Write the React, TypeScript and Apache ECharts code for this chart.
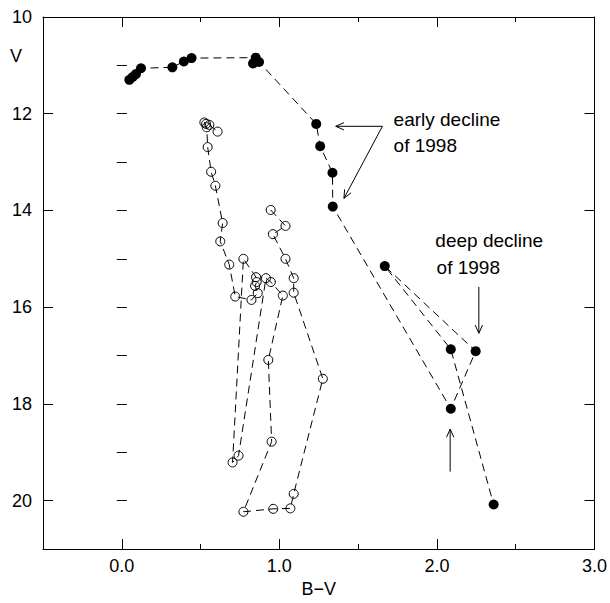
import React, { useEffect, useRef } from 'react';
import * as echarts from 'echarts';

// Filled symbols (bright phase / 1998 decline), in observation order
const filledBV = [0.048, 0.069, 0.09, 0.122, 0.321, 0.394, 0.443, 0.85, 0.833, 0.871, 1.234, 1.259, 1.337, 1.339, 2.088, 2.246, 1.669, 2.088, 2.36];
const filledV = [11.3, 11.24, 11.18, 11.06, 11.04, 10.92, 10.85, 10.84, 10.96, 10.93, 12.21, 12.67, 13.22, 13.92, 18.1, 16.91, 15.15, 16.87, 20.08];

// Open symbols, in order along the dashed track
const openBV = [0.945, 1.039, 0.959, 1.039, 1.091, 1.091, 1.276, 1.091, 1.07, 0.961, 0.772, 0.951, 0.93, 1.022, 0.946, 0.915, 0.741, 0.703, 0.772, 0.852, 0.856, 0.846, 0.863, 0.823, 0.72, 0.682, 0.625, 0.64, 0.594, 0.567, 0.545, 0.539, 0.524, 0.535, 0.556, 0.608];
const openV = [13.99, 14.32, 14.49, 15.0, 15.4, 15.7, 17.48, 19.86, 20.16, 20.17, 20.23, 18.78, 17.09, 15.76, 15.48, 15.4, 19.07, 19.21, 15.0, 15.38, 15.48, 15.56, 15.71, 15.85, 15.78, 15.12, 14.64, 14.26, 13.49, 13.2, 12.69, 12.28, 12.18, 12.21, 12.23, 12.37];

const xMajorTicks = [0, 1, 2, 3];
const yMajorTicks = [10, 12, 14, 16, 18, 20];
const xAxisTitle = 'B\u2212V';
const yAxisTitle = 'V';
const noteEarly = ['early decline', 'of 1998'];
const noteDeep = ['deep decline', 'of 1998'];

const FONT = '"Liberation Sans", Arial, Helvetica, sans-serif';
const AXIS_FS = 18;
const NOTE_FS = 19;
const X_MIN = -0.5, X_MAX = 3, Y_MIN = 10, Y_MAX = 21;

function zip(a: number[], b: number[]) {
  return a.map((v, i) => [v, b[i]]);
}

export default function App() {
  const ref = useRef<HTMLDivElement>(null);
  useEffect(() => {
    const chart = echarts.init(ref.current!, null, { renderer: 'svg' });
    const black = '#000';
    const lineCommon = { show: true, onZero: false, lineStyle: { color: black, width: 1 } };
    const xAxes: any[] = [];
    const yAxes: any[] = [];
    (['bottom', 'top'] as const).forEach((pos) => {
      xAxes.push({
        type: 'value', position: pos, min: X_MIN, max: X_MAX,
        axisLine: lineCommon,
        axisTick: { show: true, inside: true, length: 10, customValues: xMajorTicks, lineStyle: { color: black, width: 1 } },
        axisLabel: pos === 'bottom'
          ? { show: true, customValues: xMajorTicks, formatter: (v: number) => v.toFixed(1), fontSize: AXIS_FS, fontFamily: FONT, color: black, margin: 8 }
          : { show: false },
        splitLine: { show: false },
        name: pos === 'bottom' ? xAxisTitle : '',
        nameLocation: 'middle', nameGap: 31,
        nameTextStyle: { fontSize: AXIS_FS, fontFamily: FONT, color: black },
      });
      xAxes.push({
        type: 'value', position: pos, min: X_MIN, max: X_MAX, interval: 0.5,
        axisLine: { show: false },
        axisTick: { show: true, inside: true, length: 5, lineStyle: { color: black, width: 1 } },
        axisLabel: { show: false }, splitLine: { show: false },
      });
    });
    (['left', 'right'] as const).forEach((pos) => {
      yAxes.push({
        type: 'value', position: pos, min: Y_MIN, max: Y_MAX, inverse: true,
        axisLine: lineCommon,
        axisTick: { show: true, inside: true, length: 10, customValues: yMajorTicks, lineStyle: { color: black, width: 1 } },
        axisLabel: pos === 'left'
          ? { show: true, customValues: yMajorTicks, fontSize: AXIS_FS, fontFamily: FONT, color: black, margin: 11 }
          : { show: false },
        splitLine: { show: false },
      });
      yAxes.push({
        type: 'value', position: pos, min: Y_MIN, max: Y_MAX, inverse: true, interval: 1,
        axisLine: { show: false },
        axisTick: { show: true, inside: true, length: 5, lineStyle: { color: black, width: 1 } },
        axisLabel: { show: false }, splitLine: { show: false },
      });
    });

    const dash = [8, 5];
    chart.setOption({
      animation: false,
      backgroundColor: '#fff',
      textStyle: { fontFamily: FONT },
      grid: { left: 43, right: 12, top: 17, bottom: 49, containLabel: false },
      xAxis: xAxes,
      yAxis: yAxes,
      series: [
        {
          type: 'line', xAxisIndex: 0, yAxisIndex: 0,
          data: zip(openBV, openV),
          symbol: 'circle', symbolSize: 9, showSymbol: true,
          itemStyle: { color: 'rgba(0,0,0,0)', borderColor: black, borderWidth: 1 },
          lineStyle: { color: black, width: 1, type: dash },
          emphasis: { disabled: true }, z: 3,
        },
        {
          type: 'line', xAxisIndex: 0, yAxisIndex: 0,
          data: zip(filledBV, filledV),
          symbol: 'circle', symbolSize: 10, showSymbol: true,
          itemStyle: { color: black, borderWidth: 0 },
          lineStyle: { color: black, width: 1, type: dash },
          emphasis: { disabled: true }, z: 4,
        },
      ],
    });

    const px = (x: number, y: number) => chart.convertToPixel({ xAxisIndex: 0, yAxisIndex: 0 }, [x, y]) as number[];
    const arrow = (from: number[], to: number[]) => {
      const [x1, y1] = from, [x2, y2] = to;
      const ang = Math.atan2(y2 - y1, x2 - x1);
      const L = 9, th = 0.42;
      const p1 = [x2 - L * Math.cos(ang - th), y2 - L * Math.sin(ang - th)];
      const p2 = [x2 - L * Math.cos(ang + th), y2 - L * Math.sin(ang + th)];
      return [
        { type: 'line', shape: { x1, y1, x2, y2 }, style: { stroke: black, lineWidth: 1 }, z: 10 },
        { type: 'polyline', shape: { points: [p1, [x2, y2], p2] }, style: { stroke: black, fill: null, lineWidth: 1 }, z: 10 },
      ];
    };
    const text = (s: string, p: number[], fs: number) => ({
      type: 'text', x: p[0], y: p[1], z: 10,
      style: { text: s, fill: black, font: `${fs}px ${FONT}`, fontSize: fs, fontFamily: FONT, textAlign: 'left', verticalAlign: 'middle', textVerticalAlign: 'middle' },
    });

    const start1 = px(1.654, 12.26);
    const graphics: any[] = [
      text(noteEarly[0], px(1.725, 12.11), NOTE_FS),
      text(noteEarly[1], px(1.725, 12.65), NOTE_FS),
      ...arrow(start1, px(1.358, 12.26)),
      ...arrow(start1, px(1.41, 13.75)),
      text(noteDeep[0], px(1.99, 14.63), NOTE_FS),
      text(noteDeep[1], px(1.998, 15.17), NOTE_FS),
      ...arrow(px(2.266, 15.58), px(2.266, 16.54)),
      ...arrow(px(2.084, 19.4), px(2.084, 18.52)),
      text(yAxisTitle, [10, 56], AXIS_FS),
    ];
    chart.setOption({ graphic: graphics });

    return () => chart.dispose();
  }, []);
  return <div ref={ref} style={{ position: 'absolute', left: 0, top: 0, width: 610, height: 603 }} />;
}
